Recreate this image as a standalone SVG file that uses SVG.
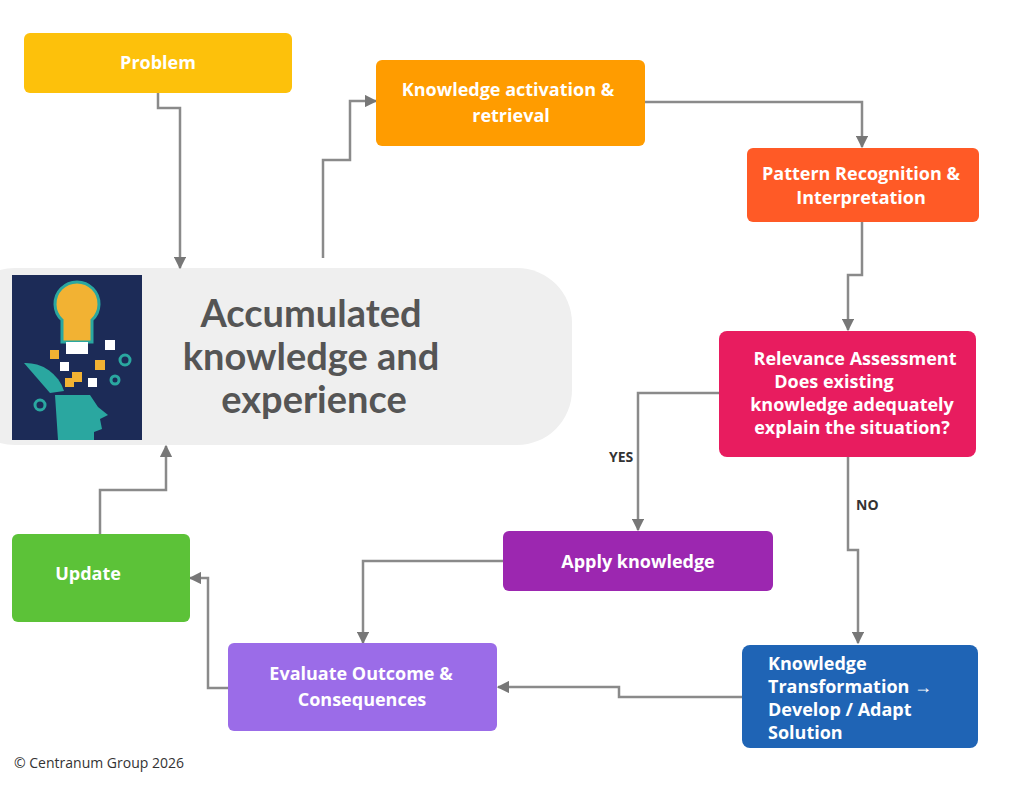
<svg xmlns="http://www.w3.org/2000/svg" width="1024" height="791" viewBox="0 0 1024 791">
<style>
.t{font-family:"Open Sans","Liberation Sans",sans-serif;font-weight:700;fill:#fff;font-size:18px;text-anchor:middle}
.c{fill:none;stroke:#8a8a8a;stroke-width:2.5;marker-end:url(#a)}
.l{font-family:"Open Sans","Liberation Sans",sans-serif;font-weight:700;font-size:14px;fill:#333}
.h{font-family:Lato,"Liberation Sans",sans-serif;font-weight:700;font-size:38px;fill:#555;text-anchor:middle}
</style>
<defs><marker id="a" viewBox="0 0 10 10" refX="9" refY="5" markerWidth="5" markerHeight="5" orient="auto"><path d="M0,0L10,5L0,10z" fill="#777"/></marker></defs>
<rect width="1024" height="791" fill="#fff"/>
<g id="center">
<rect x="-40" y="268" width="612" height="177" rx="55" fill="#efefef"/>
<rect x="12" y="275" width="130" height="165" fill="#1c2b57"/>
<path d="M62,320a22,22 0 1 1 30,0v22h-30z" fill="#f2b233" stroke="#2aa7a0" stroke-width="3"/>
<rect x="66" y="342" width="22" height="12" fill="#fff"/>
<path d="M55,395h35l8,12l10,8l-8,4l2,10l-8,3v8h-36z" fill="#2aa7a0"/>
<path d="M50,393l-26-30a40,40 0 0 1 40,28z" fill="#2aa7a0"/>
<g fill="#f2b233"><rect x="50" y="350" width="9" height="9"/><rect x="95" y="360" width="10" height="10"/><rect x="72" y="372" width="10" height="10"/><rect x="65" y="378" width="9" height="9"/></g>
<g fill="#fff"><rect x="60" y="362" width="9" height="9"/><rect x="105" y="340" width="10" height="10"/><rect x="88" y="378" width="9" height="9"/></g>
<g fill="none" stroke="#2aa7a0" stroke-width="3"><circle cx="125" cy="360" r="5"/><circle cx="40" cy="405" r="5"/><circle cx="115" cy="380" r="4"/></g>
<text class="h" x="311" y="327">Accumulated</text>
<text class="h" x="311" y="370">knowledge and</text>
<text class="h" x="314" y="413">experience</text>
</g>
<g id="connectors">
<path class="c" d="M158,93V108H180V268"/>
<path class="c" d="M323,258V160H350V101H376"/>
<path class="c" d="M645,102H862V147"/>
<path class="c" d="M862,222V275H848V330"/>
<path class="c" d="M719,393H638V530"/>
<path class="c" d="M848,457V550H858V643"/>
<path class="c" d="M503,561H363V643"/>
<path class="c" d="M742,697H619V687H498"/>
<path class="c" d="M228,688H208V578H190"/>
<path class="c" d="M100,534V490H166V446"/>
<text class="l" x="609" y="462">YES</text>
<text class="l" x="856" y="510">NO</text>
</g>
<g id="problem"><rect x="24" y="33" width="268" height="60" rx="6" fill="#fdc10b"/><text class="t" x="158" y="69">Problem</text></g>
<g id="activation"><rect x="376" y="60" width="269" height="86" rx="6" fill="#ff9c00"/><text class="t" x="508" y="96">Knowledge activation &amp;</text><text class="t" x="511" y="122">retrieval</text></g>
<g id="pattern"><rect x="747" y="148" width="232" height="74" rx="6" fill="#ff5a26"/><text class="t" x="861" y="180" font-size="16">Pattern Recognition &amp;</text><text class="t" x="861" y="204" font-size="16">Interpretation</text></g>
<g id="relevance"><rect x="719" y="331" width="257" height="126" rx="8" fill="#e81c5f"/><text class="t" x="855" y="365">Relevance Assessment</text><text class="t" x="834" y="388">Does existing</text><text class="t" x="852" y="411">knowledge adequately</text><text class="t" x="852" y="434">explain the situation?</text></g>
<g id="apply"><rect x="503" y="531" width="270" height="60" rx="6" fill="#9c27b0"/><text class="t" x="638" y="568">Apply knowledge</text></g>
<g id="transform"><rect x="742" y="645" width="236" height="103" rx="8" fill="#1f64b5"/><text class="t" x="768" y="670" style="text-anchor:start">Knowledge</text><text class="t" x="768" y="693" style="text-anchor:start">Transformation →</text><text class="t" x="768" y="716" style="text-anchor:start">Develop / Adapt</text><text class="t" x="768" y="739" style="text-anchor:start">Solution</text></g>
<g id="evaluate"><rect x="228" y="643" width="269" height="88" rx="6" fill="#9b6ce8"/><text class="t" x="361" y="680">Evaluate Outcome &amp;</text><text class="t" x="362" y="706">Consequences</text></g>
<g id="update"><rect x="12" y="534" width="178" height="88" rx="6" fill="#5cc238"/><text class="t" x="88" y="580">Update</text></g>
<text x="14" y="768" font-family="'Open Sans','Liberation Sans',sans-serif" font-size="14" fill="#333">© Centranum Group 2026</text>
</svg>
